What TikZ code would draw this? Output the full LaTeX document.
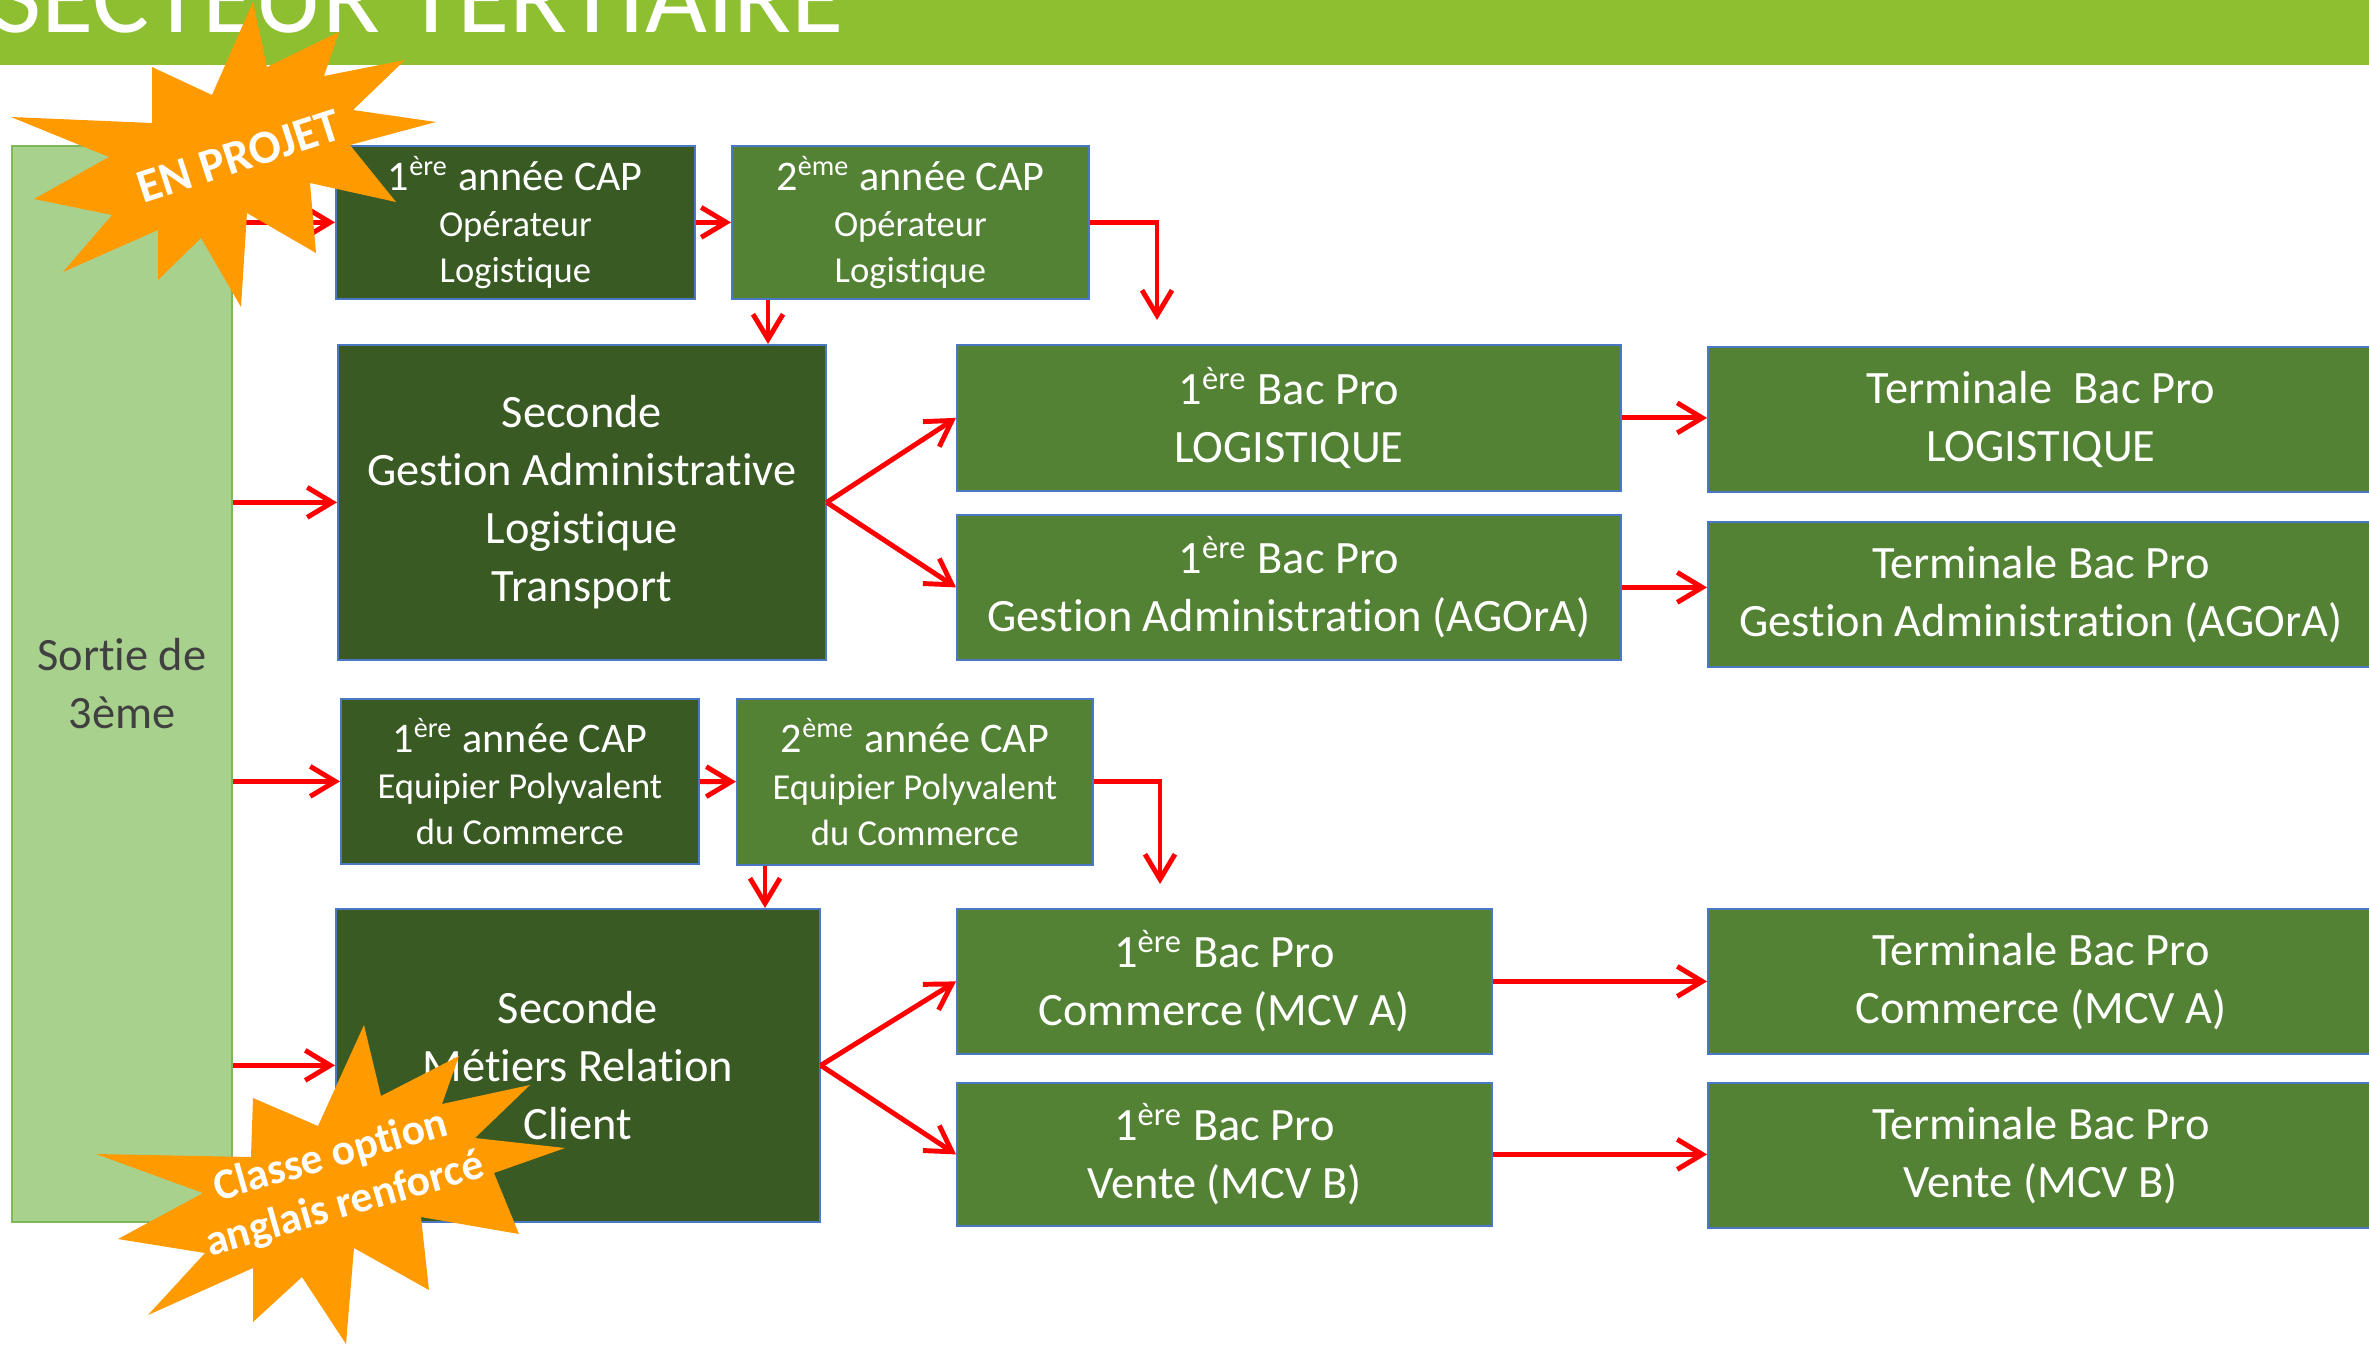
\documentclass[tikz,border=0pt]{standalone}
\usepackage{fontspec}
\setmainfont{Carlito}[RawFeature={-liga;-clig;-calt;-dlig}]
\usetikzlibrary{arrows.meta,calc,positioning}

\definecolor{titlegreen}{HTML}{8DBF31}
\definecolor{greendark}{HTML}{3A5A24}
\definecolor{greenmid}{HTML}{548235}
\definecolor{greenlight}{HTML}{A9D18E}
\definecolor{greenline}{HTML}{7FB75A}
\definecolor{boxline}{HTML}{4A78C2}
\definecolor{starorange}{HTML}{FF9A00}

\newcommand{\bigtxt}{\fontsize{13.2}{16.5}\selectfont}
\newcommand{\captxt}{\fontsize{10.4}{13.1}\selectfont}
\newcommand{\capfirst}{\fontsize{12}{13.1}\selectfont}

\tikzset{
    box/.style={draw=boxline, line width=0.5pt, text=white, align=center, anchor=north west, inner sep=0pt},
    boxdark/.style={box, fill=greendark},
    boxmid/.style={box, fill=greenmid},
    arr/.style={draw=red, line width=1.4pt, -{Straight Barb[length=2.5mm,width=3mm]}},
    startext/.style={text=white, align=center, font=\bfseries\fontsize{13.5}{15}\selectfont},
}

\begin{document}
\begin{tikzpicture}[x=0.1mm, y=-0.1mm]
    \useasboundingbox (0,0) rectangle (2369,1344);
    % bandeau
    \fill[titlegreen] (0,0) rectangle (2369,65);
    \node[anchor=base west, inner sep=0pt, text=white, font=\fontsize{30.4}{30}\selectfont] (titre) at (-8,33) {SECTEUR TERTIAIRE};

    \node[draw=greenline, fill=greenlight, line width=0.5pt, anchor=north west, minimum width=22mm, minimum height=107.6mm,
        align=center, text=black!75, font=\bigtxt] (sortie) at (11,145) {Sortie de\\3ème};

    % logistique / gestion
    \node[boxdark, minimum width=35.9mm, minimum height=15.3mm, font=\captxt] (a1) at (335,145)
        {{\capfirst 1\textsuperscript{ère} année CAP}\\Opérateur\\Logistique};
    \node[boxmid, minimum width=35.7mm, minimum height=15.3mm, font=\captxt] (a2) at (731,145)
        {{\capfirst 2\textsuperscript{ème} année CAP}\\Opérateur\\Logistique};
    \node[boxdark, minimum width=48.8mm, minimum height=31.5mm, font=\bigtxt] (sga) at (337,344)
        {Seconde\\Gestion Administrative\\Logistique\\Transport};
    \node[boxmid, minimum width=66.4mm, minimum height=14.6mm, font=\bigtxt] (blog) at (956,344)
        {1\textsuperscript{ère} Bac Pro\\LOGISTIQUE};
    \node[boxmid, minimum width=66.4mm, minimum height=14.5mm, font=\bigtxt] (bga) at (956,514)
        {1\textsuperscript{ère} Bac Pro\\Gestion Administration (AGOrA)};
    \node[boxmid, minimum width=66.6mm, minimum height=14.5mm, font=\bigtxt] (tlog) at (1707,346)
        {Terminale\ \ Bac Pro\\LOGISTIQUE};
    \node[boxmid, minimum width=66.6mm, minimum height=14.5mm, font=\bigtxt] (tga) at (1707,521)
        {Terminale Bac Pro\\Gestion Administration (AGOrA)};

    % commerce / vente
    \node[boxdark, minimum width=35.8mm, minimum height=16.5mm, font=\captxt] (b1) at (340,698)
        {{\capfirst 1\textsuperscript{ère} année CAP}\\Equipier Polyvalent\\du Commerce};
    \node[boxmid, minimum width=35.6mm, minimum height=16.6mm, font=\captxt] (b2) at (736,698)
        {{\capfirst 2\textsuperscript{ème} année CAP}\\Equipier Polyvalent\\du Commerce};
    \node[boxdark, minimum width=48.4mm, minimum height=31.3mm, font=\bigtxt] (smrc) at (335,908)
        {Seconde\\Métiers Relation\\Client};
    \node[boxmid, minimum width=53.5mm, minimum height=14.5mm, font=\bigtxt] (bcom) at (956,908)
        {1\textsuperscript{ère} Bac Pro\\Commerce (MCV A)};
    \node[boxmid, minimum width=53.5mm, minimum height=14.3mm, font=\bigtxt] (bven) at (956,1082)
        {1\textsuperscript{ère} Bac Pro\\Vente (MCV B)};
    \node[boxmid, minimum width=66.6mm, minimum height=14.5mm, font=\bigtxt] (tcom) at (1707,908)
        {Terminale Bac Pro\\Commerce (MCV A)};
    \node[boxmid, minimum width=66.6mm, minimum height=14.5mm, font=\bigtxt] (tven) at (1707,1082)
        {Terminale Bac Pro\\Vente (MCV B)};

    % fleches
    \draw[arr] (sortie.east |- a1.west) -- (a1.west);
    \draw[arr] (a1) -- (a2);
    \draw[arr] ([xshift=3.7mm]a2.south west) -- ([xshift=3.7mm]a2.south west |- sga.north);
    \draw[arr] (a2.east) -| ([xshift=20.1mm,yshift=2.4mm]blog.north west);
    \draw[arr] (sortie.east |- sga.west) -- (sga.west);
    \draw[arr] (sga.east) -- (blog.west);
    \draw[arr] (sga.east) -- (bga.west);
    \draw[arr] (blog.east) -- (blog.east -| tlog.west);
    \draw[arr] (bga.east) -- (bga.east -| tga.west);

    \draw[arr] (sortie.east |- b1.west) -- (b1.west);
    \draw[arr] (b1) -- (b2);
    \draw[arr] ([xshift=2.9mm]b2.south west) -- ([xshift=2.9mm]b2.south west |- smrc.north);
    \draw[arr] (b2.east) -| ([xshift=20.4mm,yshift=2.4mm]bcom.north west);
    \draw[arr] (sortie.east |- smrc.west) -- (smrc.west);
    \draw[arr] (smrc.east) -- (bcom.west);
    \draw[arr] (smrc.east) -- (bven.west);
    \draw[arr] (bcom.east) -- (bcom.east -| tcom.west);
    \draw[arr] (bven.east) -- (bven.east -| tven.west);

    % etoiles
    \fill[starorange] (253,2) -- (267,67) -- (339,32) -- (324,76) -- (405,60) -- (353,110) -- (436,122) -- (350,145)
        -- (396,202) -- (310,183) -- (316,253) -- (247,213) -- (241,307) -- (201,238) -- (158,280) -- (158,230)
        -- (63,272) -- (112,215) -- (34,199) -- (109,157) -- (11,117) -- (152,123) -- (152,67) -- (212,95) -- cycle;
    \node[startext, rotate=18] (projet) at (239,156) {EN PROJET};

    \fill[starorange] (364,1025) -- (381,1096) -- (459,1056) -- (442,1104) -- (530,1085) -- (475,1138) -- (565,1148)
        -- (494,1173) -- (519,1234) -- (421,1217) -- (429,1290) -- (354,1248) -- (346,1344) -- (302,1277) -- (253,1322)
        -- (253,1268) -- (148,1315) -- (205,1253) -- (118,1239) -- (203,1193) -- (96,1154) -- (251,1157) -- (253,1098)
        -- (318,1126) -- cycle;
    \node[startext, rotate=16, font=\bfseries\fontsize{12.4}{14.4}\selectfont] (anglais) at (338,1181)
        {Classe option\\anglais renforcé};
\end{tikzpicture}
\end{document}
